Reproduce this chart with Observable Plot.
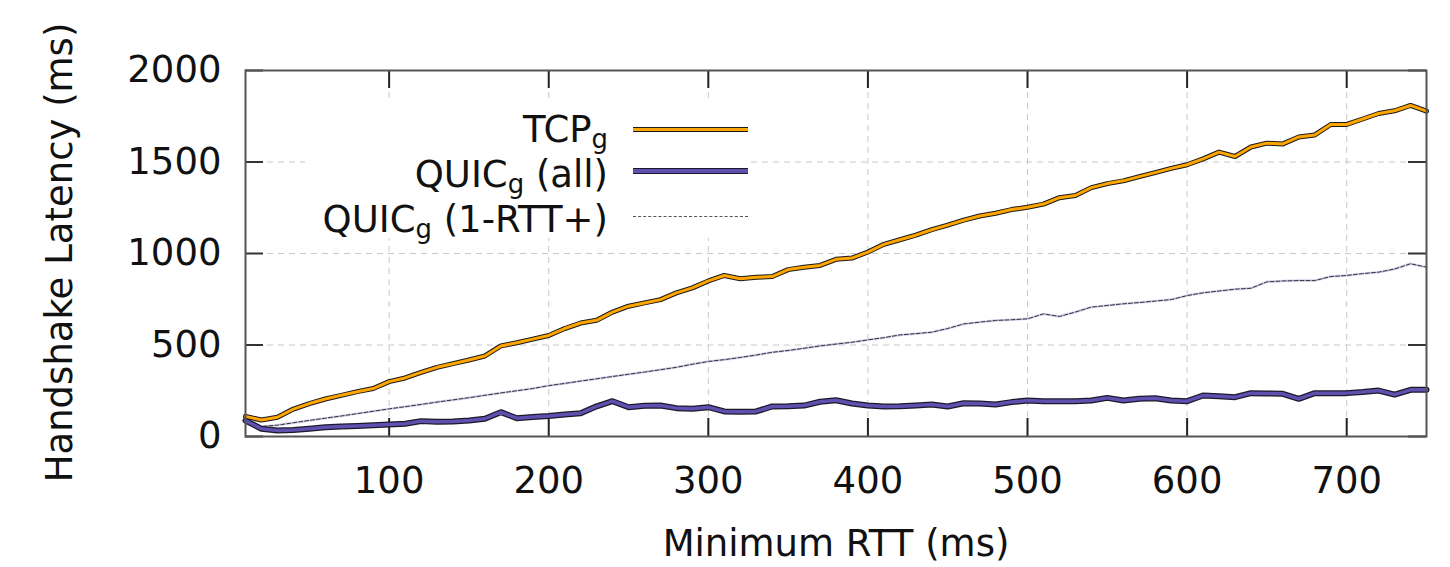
<!DOCTYPE html>
<html>
<head>
<meta charset="utf-8">
<script src="https://cdn.jsdelivr.net/npm/d3@7"></script>
<script src="https://cdn.jsdelivr.net/npm/@observablehq/plot@0.6"></script>
<style>
  html, body { margin: 0; padding: 0; background: #fff; }
  #wrap { position: relative; width: 1450px; height: 567px; font-family: "DejaVu Sans", sans-serif; color: #111; }
  #legend { position: absolute; left: 305px; top: 102px; width: 445px; height: 136px; background: #fff; }
  .lab { position: absolute; right: 142px; font-size: 37px; line-height: 37px; white-space: nowrap; text-align: right; }
  .sub { font-size: 0.7em; position: relative; top: 0.22em; }
  .swatch { position: absolute; left: 328px; width: 115px; }
</style>
</head>
<body>
<div id="wrap"></div>
<script>
// Minimum RTT (ms)
const rtt = [10,20,30,40,50,60,70,80,90,100,110,120,130,140,150,160,170,180,190,200,
  210,220,230,240,250,260,270,280,290,300,310,320,330,340,350,360,370,380,390,400,
  410,420,430,440,450,460,470,480,490,500,510,520,530,540,550,560,570,580,590,600,
  610,620,630,640,650,660,670,680,690,700,710,720,730,740,750];

// TCP_g handshake latency (ms)
const tcp = [110,90,105,150,180,205,225,245,262,300,320,350,378,398,418,440,495,512,532,552,
  590,620,635,680,712,730,748,785,812,850,880,862,870,874,912,925,935,968,975,1008,
  1050,1075,1100,1130,1155,1182,1205,1220,1240,1253,1270,1305,1317,1360,1382,1397,1420,1442,1465,1485,
  1517,1554,1530,1582,1603,1599,1637,1648,1705,1705,1735,1765,1780,1809,1778];

// QUIC_g (all) handshake latency (ms)
const quicAll = [87,42,33,35,42,50,55,58,62,66,70,84,80,82,88,97,133,100,106,112,
  120,127,165,193,160,168,169,155,152,160,137,135,137,164,165,169,190,198,180,169,
  164,165,170,175,164,182,180,175,188,197,193,193,193,197,211,197,206,209,197,193,
  224,220,215,237,235,233,206,237,237,237,243,251,229,255,255];

// QUIC_g (1-RTT+) handshake latency (ms)
const quic1rtt = [78,55,62,75,88,100,112,125,138,151,163,175,188,200,212,225,238,250,262,278,
  290,303,315,328,340,352,365,378,395,410,420,432,445,460,470,482,495,505,515,528,
  540,555,562,570,590,615,625,634,638,643,670,656,680,707,716,725,732,740,748,770,
  785,795,805,810,845,850,852,852,874,880,890,898,915,944,925];

const xTicks = [100,200,300,400,500,600,700];
const yTicks = [0,500,1000,1500,2000];

const tcpData = rtt.map((x, i) => ({x, y: tcp[i]}));
const allData = rtt.map((x, i) => ({x, y: quicAll[i]}));
const oneData = rtt.map((x, i) => ({x, y: quic1rtt[i]}));

const W = 1450, H = 567, mT = 70, mB = 131, mL = 245, mR = 24;
const innerH = H - mT - mB, innerW = W - mL - mR, tickLen = 18;

const chart = Plot.plot({
  width: W, height: H,
  marginTop: mT, marginBottom: mB, marginLeft: mL, marginRight: mR,
  x: {domain: [10, 750]},
  y: {domain: [0, 2000]},
  style: {fontFamily: "DejaVu Sans", fontSize: "37px", color: "#111", background: "#fff", overflow: "visible"},
  marks: [
    Plot.gridX(xTicks, {stroke: "#c8c8c8", strokeOpacity: 1, strokeDasharray: "6,5", strokeWidth: 1}),
    Plot.gridY(yTicks.slice(1, 4), {stroke: "#c8c8c8", strokeOpacity: 1, strokeDasharray: "6,5", strokeWidth: 1}),
    // inward mirrored ticks
    Plot.tickX(xTicks, {x: d => d, insetTop: innerH - tickLen, stroke: "#222", strokeWidth: 2}),
    Plot.tickX(xTicks, {x: d => d, insetBottom: innerH - tickLen, stroke: "#222", strokeWidth: 2}),
    Plot.tickY(yTicks, {y: d => d, insetRight: innerW - tickLen, stroke: "#333", strokeWidth: 2}),
    Plot.tickY(yTicks, {y: d => d, insetLeft: innerW - tickLen, stroke: "#333", strokeWidth: 2}),
    Plot.axisX(xTicks, {tickSize: 0, tickPadding: 30, label: null, tickFormat: d => String(d)}),
    Plot.axisY(yTicks, {tickSize: 0, tickPadding: 24, label: null, tickFormat: d => String(d)}),
    // QUIC 1-RTT+
    Plot.line(oneData, {x: "x", y: "y", stroke: "#d8d0f0", strokeWidth: 2.5}),
    Plot.line(oneData, {x: "x", y: "y", stroke: "#333", strokeWidth: 1, strokeDasharray: "4,2"}),
    // QUIC all
    Plot.line(allData, {x: "x", y: "y", stroke: "#1a1a2a", strokeWidth: 6}),
    Plot.line(allData, {x: "x", y: "y", stroke: "#5f4fae", strokeWidth: 3.5}),
    // TCP
    Plot.line(tcpData, {x: "x", y: "y", stroke: "#1a1a1a", strokeWidth: 5}),
    Plot.line(tcpData, {x: "x", y: "y", stroke: "#ffa500", strokeWidth: 3}),
    Plot.frame({stroke: "#555", strokeWidth: 2}),
    Plot.text(["Minimum RTT (ms)"], {frameAnchor: "bottom", dy: 119, fontSize: 37}),
    Plot.text(["Handshake Latency (ms)"], {frameAnchor: "left", textAnchor: "middle", rotate: -90, dx: -185, dy: -1, fontSize: 37})
  ]
});

const wrap = document.getElementById("wrap");
wrap.appendChild(chart);

// Legend (box blanks the grid like the original key)
const legend = document.createElement("div");
legend.id = "legend";
const rows = [
  {name: "TCP", sub: "g", rest: "", top: 9, lineY: 27, color: "#ffa500", border: "#1a1a1a", h: 3},
  {name: "QUIC", sub: "g", rest: " (all)", top: 54, lineY: 69, color: "#5f4fae", border: "#1a1a2a", h: 4},
  {name: "QUIC", sub: "g", rest: " (1-RTT+)", top: 99, lineY: 114, color: null}
];
rows.forEach(r => {
  const t = document.createElement("div");
  t.className = "lab";
  t.style.top = r.top + "px";
  t.innerHTML = `${r.name}<span class="sub">${r.sub}</span>${r.rest}`;
  legend.appendChild(t);
  const s = document.createElement("div");
  s.className = "swatch";
  if (r.color) {
    s.style.top = (r.lineY - r.h / 2 - 1) + "px";
    s.style.height = r.h + "px";
    s.style.background = r.color;
    s.style.borderTop = "1px solid " + r.border;
    s.style.borderBottom = "1px solid " + r.border;
  } else {
    s.style.top = r.lineY + "px";
    s.style.height = "0px";
    s.style.borderTop = "1px dashed #555";
  }
  legend.appendChild(s);
});
wrap.appendChild(legend);
</script>
</body>
</html>
